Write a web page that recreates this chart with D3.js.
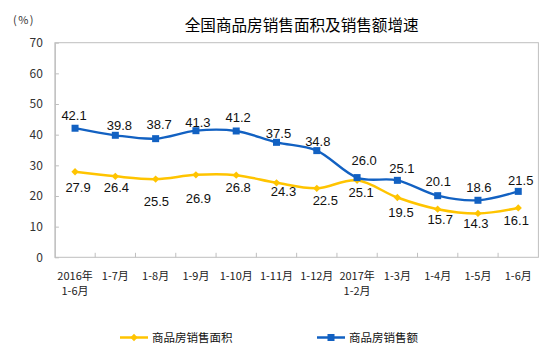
<!DOCTYPE html>
<html>
<head>
<meta charset="utf-8">
<script src="https://cdn.jsdelivr.net/npm/d3@7"></script>
<style>
  html, body { margin: 0; padding: 0; background: #ffffff; }
  svg { display: block; }
</style>
</head>
<body>
<svg id="chart" width="554" height="358"></svg>
<script>
// ---- data ----
const categories = [
  ["2016年", "1-6月"], ["1-7月"], ["1-8月"], ["1-9月"], ["1-10月"], ["1-11月"],
  ["1-12月"], ["2017年", "1-2月"], ["1-3月"], ["1-4月"], ["1-5月"], ["1-6月"]
];
const areaGrowth  = [27.9, 26.4, 25.5, 26.9, 26.8, 24.3, 22.5, 25.1, 19.5, 15.7, 14.3, 16.1];
const salesGrowth = [42.1, 39.8, 38.7, 41.3, 41.2, 37.5, 34.8, 26.0, 25.1, 20.1, 18.6, 21.5];
const yTicks = [0, 10, 20, 30, 40, 50, 60, 70];
const seriesNames = ["商品房销售面积", "商品房销售额"];
const titleText = "全国商品房销售面积及销售额增速";
const unitText = "(%)";

// ---- label placement (layout, not data) ----
const salesLabelDy = [-13, -10, -14, -8, -14, -9, -9.5, -17, -12, -14, -13, -11];
const salesLabelDx = [-1, 4, 3.5, 2, 2, 2, 1, 7, 4.5, 0.6, 1, 2.5];
const areaLabelDy  = [16, 11, 22.5, 23.5, 12, 9, 11.5, 11.5, 15.3, 10.4, 9.5, 12.6];
const areaLabelDx  = [3, 1, 0.7, 2.4, 2, 7, 8.5, 4, 3.6, 2.6, -2, -2];

const yellow = "#ffc400";
const blue = "#1261c2";
const frame = "#bfbfbf";

const svg = d3.select("#chart");
const plot = { left: 54.9, right: 538.4, top: 42.7, bottom: 257.3 };

const x = d3.scaleBand()
  .domain(d3.range(categories.length))
  .range([plot.left, plot.right])
  .padding(0);
const y = d3.scaleLinear().domain([0, 70]).range([plot.bottom, plot.top]);
const cx = i => x(i) + x.bandwidth() / 2;

// frame
svg.append("rect")
  .attr("x", plot.left).attr("y", plot.top)
  .attr("width", plot.right - plot.left).attr("height", plot.bottom - plot.top)
  .attr("fill", "none").attr("stroke", frame).attr("stroke-width", 1);

// y axis
const yAxis = d3.axisLeft(y).tickValues(yTicks).tickSizeInner(-4).tickSizeOuter(0).tickPadding(12);
const gy = svg.append("g").attr("transform", `translate(${plot.left},0)`).call(yAxis);
gy.select(".domain").attr("stroke", frame);
gy.selectAll(".tick line").attr("stroke", frame);
gy.selectAll(".tick text")
  .attr("fill", "#333")
  .style("font-family", "'Noto Sans CJK SC', 'Liberation Sans', sans-serif")
  .style("font-size", "12px");

// x axis: tick marks at band boundaries (pointing up), labels at band centers
const boundaries = d3.range(1, categories.length).map(i => x(i));
svg.append("g").selectAll("line").data(boundaries).join("line")
  .attr("x1", d => d).attr("x2", d => d)
  .attr("y1", plot.bottom).attr("y2", plot.bottom - 4.5)
  .attr("stroke", frame).attr("stroke-width", 1);

const xl = svg.append("g")
  .style("font-family", "'Noto Sans CJK SC', sans-serif")
  .style("font-size", "11px")
  .attr("fill", "#222");
categories.forEach((lines, i) => {
  lines.forEach((t, j) => {
    xl.append("text")
      .attr("x", cx(i)).attr("y", 279.5 + j * 15.5)
      .attr("text-anchor", "middle")
      .text(t);
  });
});

// unit label
svg.append("text")
  .attr("x", 24).attr("y", 24)
  .attr("text-anchor", "middle")
  .style("font-family", "'Noto Sans CJK SC', sans-serif")
  .style("font-size", "11px")
  .style("letter-spacing", "1.5px")
  .attr("fill", "#333")
  .text(unitText);

// title
svg.append("text")
  .attr("x", 301.7).attr("y", 30.5)
  .attr("text-anchor", "middle")
  .style("font-family", "'Noto Sans CJK SC', sans-serif")
  .style("font-size", "15.6px")
  .attr("fill", "#000")
  .text(titleText);

// lines
const line = d3.line()
  .x((d, i) => cx(i))
  .y(d => y(d))
  .curve(d3.curveCatmullRom.alpha(0));

svg.append("path").datum(areaGrowth)
  .attr("d", line).attr("fill", "none")
  .attr("stroke", yellow).attr("stroke-width", 2.5);
svg.append("path").datum(salesGrowth)
  .attr("d", line).attr("fill", "none")
  .attr("stroke", blue).attr("stroke-width", 2.3);

// markers
const diamond = d3.symbol().type(d3.symbolDiamond2).size(34);
svg.append("g").selectAll("path").data(areaGrowth).join("path")
  .attr("transform", (d, i) => `translate(${cx(i)},${y(d)})`)
  .attr("d", diamond)
  .attr("fill", yellow);

svg.append("g").selectAll("rect").data(salesGrowth).join("rect")
  .attr("x", (d, i) => cx(i) - 3.5).attr("y", d => y(d) - 3.5)
  .attr("width", 7).attr("height", 7)
  .attr("fill", blue);

// data labels
const labelFont = "'Liberation Sans', Arial, sans-serif";
svg.append("g").selectAll("text").data(salesGrowth).join("text")
  .attr("x", (d, i) => cx(i) + salesLabelDx[i])
  .attr("y", (d, i) => y(d) + salesLabelDy[i])
  .attr("dy", "0.36em")
  .attr("text-anchor", "middle")
  .style("font-family", labelFont).style("font-size", "13px")
  .attr("fill", "#111")
  .text(d => d.toFixed(1));

svg.append("g").selectAll("text").data(areaGrowth).join("text")
  .attr("x", (d, i) => cx(i) + areaLabelDx[i])
  .attr("y", (d, i) => y(d) + areaLabelDy[i])
  .attr("dy", "0.36em")
  .attr("text-anchor", "middle")
  .style("font-family", labelFont).style("font-size", "13px")
  .attr("fill", "#111")
  .text(d => d.toFixed(1));

// legend
const legend = svg.append("g")
  .style("font-family", "'Noto Sans CJK SC', sans-serif")
  .style("font-size", "11.5px");
const legendItems = [
  { name: seriesNames[0], color: yellow, x0: 120, marker: "diamond" },
  { name: seriesNames[1], color: blue, x0: 317, marker: "square" }
];
legendItems.forEach(it => {
  const ly = 337.5;
  legend.append("line")
    .attr("x1", it.x0).attr("x2", it.x0 + 28)
    .attr("y1", ly).attr("y2", ly)
    .attr("stroke", it.color).attr("stroke-width", 2.5);
  if (it.marker === "diamond") {
    legend.append("path")
      .attr("transform", `translate(${it.x0 + 14},${ly})`)
      .attr("d", diamond).attr("fill", it.color);
  } else {
    legend.append("rect")
      .attr("x", it.x0 + 14 - 3.5).attr("y", ly - 3.5)
      .attr("width", 7).attr("height", 7).attr("fill", it.color);
  }
  legend.append("text")
    .attr("x", it.x0 + 32).attr("y", ly)
    .attr("dy", "0.36em")
    .attr("fill", "#111")
    .text(it.name);
});
</script>
</body>
</html>
